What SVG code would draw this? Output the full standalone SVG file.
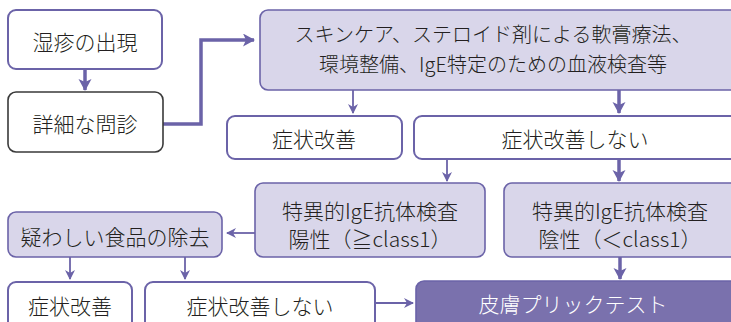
<svg xmlns="http://www.w3.org/2000/svg" width="731" height="322" viewBox="0 0 731 322">
<style>
text{font-family:"Noto Sans CJK JP","Noto Sans",sans-serif;font-size:21px;font-weight:300;fill:#231f20;text-anchor:middle;dominant-baseline:central}
.w{fill:#fff;stroke:#6b63a8;stroke-width:2}
.k{fill:#fff;stroke:#3a3a3a;stroke-width:1.6}
.l{fill:#d9d6ea;stroke:#6b63a8;stroke-width:1.6}
.d{fill:#7a71ad;stroke:#6b63a8;stroke-width:1.6}
.t{fill:#fff}
.c1{fill:none;stroke:#6b63a8;stroke-width:1.8}
.c2{fill:none;stroke:#6b63a8;stroke-width:3.5}
</style>
<defs>
<marker id="a1" markerUnits="userSpaceOnUse" markerWidth="12" markerHeight="12" refX="9" refY="5" orient="auto"><path d="M0,0 L10,5 L0,10 L3,5 Z" fill="#6b63a8"/></marker>
<marker id="a2" markerUnits="userSpaceOnUse" markerWidth="14" markerHeight="14" refX="11" refY="6.5" orient="auto"><path d="M0,0 L12,6.5 L0,13 L3,6.5 Z" fill="#6b63a8"/></marker>
</defs>
<g id="connectors">
<path class="c2" d="M85,69 V90" marker-end="url(#a2)"/>
<path class="c2" d="M163,124 H201 V40 H254" marker-end="url(#a2)"/>
<path class="c1" d="M353,90 V113" marker-end="url(#a1)"/>
<path class="c2" d="M619,90 V113" marker-end="url(#a2)"/>
<path class="c1" d="M447,159 V181" marker-end="url(#a1)"/>
<path class="c2" d="M619,159 V181" marker-end="url(#a2)"/>
<path class="c1" d="M255,233 H227" marker-end="url(#a1)"/>
<path class="c1" d="M70,257 V279" marker-end="url(#a1)"/>
<path class="c1" d="M185,257 V279" marker-end="url(#a1)"/>
<path class="c1" d="M375,303 H413" marker-end="url(#a1)"/>
<path class="c2" d="M620,257 V279" marker-end="url(#a2)"/>
</g>
<g id="n1"><rect class="w" x="8" y="10" width="154" height="59" rx="8"/><text x="85" y="41">湿疹の出現</text></g>
<g id="n2"><rect class="k" x="8" y="92" width="155" height="60" rx="8"/><text x="85" y="123">詳細な問診</text></g>
<g id="n3"><rect class="l" x="260" y="10" width="480" height="80" rx="8"/><text x="493" y="33" style="font-size:20px">スキンケア、ステロイド剤による軟膏療法、</text><text x="493" y="63" style="font-size:20px">環境整備、IgE特定のための血液検査等</text></g>
<g id="n4"><rect class="w" x="227" y="116" width="175" height="43" rx="8"/><text x="314" y="138">症状改善</text></g>
<g id="n5"><rect class="w" x="414" y="116" width="330" height="43" rx="8"/><text x="575" y="138">症状改善しない</text></g>
<g id="n6"><rect class="l" x="255" y="183" width="230" height="74" rx="8"/><text x="370" y="210">特異的IgE抗体検査</text><text x="370" y="238">陽性（≧class1）</text></g>
<g id="n7"><rect class="l" x="504" y="183" width="240" height="74" rx="8"/><text x="620" y="210">特異的IgE抗体検査</text><text x="620" y="238">陰性（＜class1）</text></g>
<g id="n8"><rect class="l" x="8" y="212" width="214" height="45" rx="8"/><text x="115" y="236">疑わしい食品の除去</text></g>
<g id="n9"><rect class="w" x="8" y="282" width="124" height="50" rx="8"/><text x="70" y="305">症状改善</text></g>
<g id="n10"><rect class="w" x="145" y="282" width="230" height="50" rx="8"/><text x="260" y="305">症状改善しない</text></g>
<g id="n11"><rect class="d" x="416" y="281" width="330" height="50" rx="8"/><text class="t" x="573" y="303">皮膚プリックテスト</text></g>
</svg>
